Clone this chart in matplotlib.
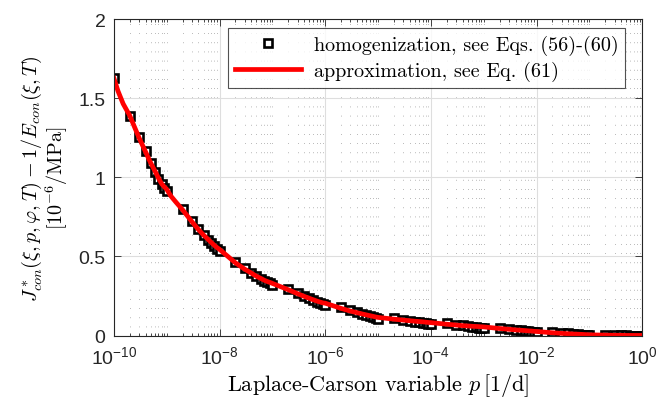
import numpy as np
import matplotlib.pyplot as plt
from matplotlib.ticker import FixedLocator, NullFormatter

plt.rcParams['font.family'] = 'Liberation Sans'
plt.rcParams['mathtext.fontset'] = 'custom'
plt.rcParams['mathtext.rm'] = 'Liberation Sans'
plt.rcParams['mathtext.it'] = 'Liberation Sans:italic'

# sampling of the Laplace-Carson variable: 1..9 x 10^k, k = -10..-1, plus 1
p = [n * 10.0 ** k for k in range(-10, 0) for n in range(1, 10)] + [1.0]

# homogenization results (one row per decade)
homog = [
    1.628, 1.385, 1.255, 1.165, 1.090, 1.035, 0.990, 0.955, 0.930,
    0.915, 0.800, 0.725, 0.672, 0.635, 0.607, 0.584, 0.565, 0.550,
    0.535, 0.468, 0.425, 0.397, 0.375, 0.360, 0.347, 0.337, 0.330,
    0.322, 0.297, 0.270, 0.250, 0.236, 0.224, 0.215, 0.207, 0.200,
    0.195, 0.180, 0.160, 0.147, 0.137, 0.129, 0.122, 0.116, 0.111,
    0.106, 0.110, 0.100, 0.094, 0.089, 0.085, 0.081, 0.078, 0.075,
    0.073, 0.078, 0.070, 0.064, 0.060, 0.056, 0.053, 0.051, 0.049,
    0.047, 0.050, 0.043, 0.038, 0.034, 0.030, 0.027, 0.025, 0.023,
    0.021, 0.024, 0.018, 0.014, 0.011, 0.008, 0.006, 0.004, 0.002,
    0.001, 0.005, 0.003, 0.002, 0.001, 0.000, 0.000, 0.000, 0.000,
    0.000,
]

# approximation, Eq. (61), on the same grid
approx = [
    1.628, 1.390, 1.250, 1.160, 1.090, 1.040, 0.995, 0.960, 0.940,
    0.925, 0.795, 0.720, 0.670, 0.635, 0.610, 0.588, 0.570, 0.556,
    0.545, 0.460, 0.420, 0.395, 0.375, 0.362, 0.350, 0.342, 0.336,
    0.330, 0.290, 0.265, 0.248, 0.236, 0.226, 0.218, 0.212, 0.207,
    0.205, 0.172, 0.155, 0.145, 0.137, 0.131, 0.126, 0.122, 0.118,
    0.115, 0.104, 0.098, 0.094, 0.091, 0.089, 0.087, 0.085, 0.083,
    0.082, 0.072, 0.067, 0.063, 0.061, 0.059, 0.058, 0.057, 0.056,
    0.055, 0.045, 0.040, 0.036, 0.034, 0.032, 0.030, 0.029, 0.027,
    0.026, 0.018, 0.014, 0.012, 0.010, 0.009, 0.008, 0.007, 0.006,
    0.005, 0.003, 0.002, 0.002, 0.001, 0.001, 0.001, 0.001, 0.001,
    0.001,
]
# a few extra points of the approximation where it bends the most
approx_extra_p = [1.2e-10, 1.5e-10, 1.2e-9, 1.5e-9]
approx_extra = [1.545, 1.465, 0.882, 0.843]

xticks = [1e-10, 1e-8, 1e-6, 1e-4, 1e-2, 1e0]
xtick_labels = ['$10^{-10}$', '$10^{-8}$', '$10^{-6}$', '$10^{-4}$', '$10^{-2}$', '$10^{0}$']
yticks = [0, 0.5, 1, 1.5, 2]
ytick_labels = ['0', '0.5', '1', '1.5', '2']

labels = ['homogenization, see Eqs. (56)-(60)', 'approximation, see Eq. (61)']
xlabel = r'Laplace-Carson variable $p\,[1/\mathrm{d}]$'
ylabel = r'$J^*_{con}(\xi,p,\varphi,T)-1/E_{con}(\xi,T)$' + '\n' + r'$[10^{-6}/\mathrm{MPa}]$'


fit_pairs = sorted(zip(p + approx_extra_p, approx + approx_extra))
p_fit = [a for a, b in fit_pairs]
j_fit = [b for a, b in fit_pairs]

fig = plt.figure(figsize=(6.58, 4.10), dpi=100)
ax = fig.add_axes([0.173, 0.179, 0.803, 0.772])

ax.plot(p, homog, linestyle='none', marker='s', markersize=5.6,
        markerfacecolor='white', markeredgecolor='black', markeredgewidth=1.9,
        label=labels[0])
ax.plot(p_fit, j_fit, color='red', linewidth=3.4, label=labels[1])

ax.set_xscale('log')
ax.set_xlim(1e-10, 1)
ax.set_ylim(0, 2)

minor = [n * 10.0 ** k for k in range(-10, 0) for n in range(1, 10)
         if not (n == 1 and k % 2 == 0)]
ax.set_xticks(xticks, labels=xtick_labels)
ax.xaxis.set_minor_locator(FixedLocator(minor))
ax.xaxis.set_minor_formatter(NullFormatter())
ax.set_yticks(yticks, labels=ytick_labels)

ax.tick_params(which='both', direction='in', top=True, right=True,
               labelsize=14, colors='#262626', width=0.6)
ax.tick_params(which='major', length=5)
ax.tick_params(which='minor', length=2.5)
ax.tick_params(axis='x', which='major', pad=7)
ax.tick_params(axis='y', which='major', pad=6)

ax.grid(which='major', color='#dedede', linewidth=0.8)
ax.grid(which='minor', axis='x', color='#a0a0a0', linestyle=(0, (1, 10)), linewidth=0.6)
ax.set_axisbelow(True)
for s in ax.spines.values():
    s.set_linewidth(0.8)
    s.set_color('#262626')

ax.set_xlabel(xlabel, fontsize=16, fontfamily='cmr10', math_fontfamily='cm', labelpad=3)
ax.set_ylabel(ylabel, fontsize=14.5, fontfamily='cmr10', math_fontfamily='cm',
              linespacing=1.0, labelpad=6)

leg = ax.legend(loc='upper right', bbox_to_anchor=(0.968, 0.972),
                prop={'family': 'cmr10', 'size': 14.5}, frameon=True, fancybox=False,
                handlelength=3.3, labelspacing=0.3, borderpad=0.35, handletextpad=0.6,
                borderaxespad=0)
leg.get_frame().set_edgecolor('#262626')
leg.get_frame().set_linewidth(0.8)

fig.savefig('out.png', dpi=100)
